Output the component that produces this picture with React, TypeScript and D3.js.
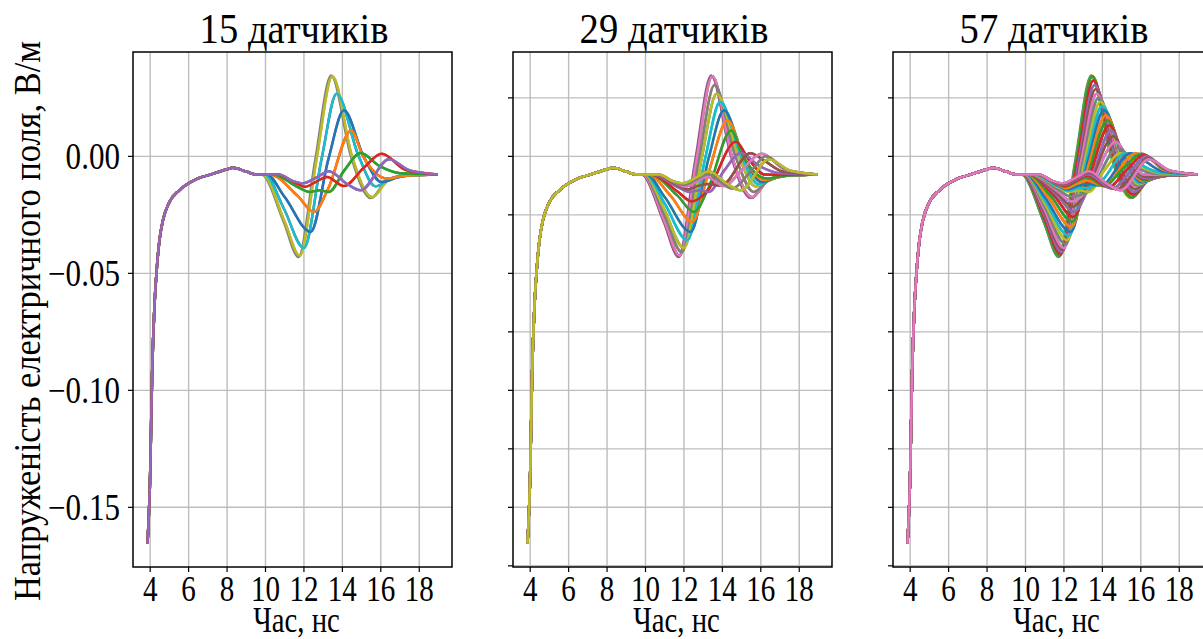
import * as d3 from "d3";

// sensors per panel and labels
const panelSensors = [15, 29, 57];
const panelTitles = ["15 датчиків", "29 датчиків", "57 датчиків"];
const xTicks = [4, 6, 8, 10, 12, 14, 16, 18];
const yTicksLabelled = [0, -0.05, -0.1, -0.15];
const yTicksFine = [0.025, 0, -0.025, -0.05, -0.075, -0.1, -0.125, -0.15, -0.175];
const yTickText = ["0.00", "\u22120.05", "\u22120.10", "\u22120.15"];

// part of the signal that every sensor shares (ns, V/m)
const startTimes = [3.86, 4.0, 4.1, 4.22, 4.35, 4.48, 4.66, 5.0, 5.5, 6.4, 7.2, 8.0, 8.3, 9.0, 9.5];
const startValues = [-0.1655, -0.1356, -0.093, -0.0644, -0.0473, -0.036, -0.0274, -0.0195, -0.0146, -0.0097, -0.0076, -0.0055, -0.0049, -0.0065, -0.0077];
const endTime = 18.95;
const endValue = -0.0077;

// knots [t, v, t, v, ...] per sensor, ordered from the middle sensor outwards (57-sensor spacing)
const sensorKnots: number[][] = [
	[9.8, -0.0077, 10.95, -0.028, 11.72, -0.043, 12.58, -0.002, 13.42, 0.0346, 14.45, 0.0, 15.48, -0.0178, 16.3, -0.0105, 17.3, -0.0082],
	[9.81, -0.0077, 10.96, -0.028, 11.73, -0.0429, 12.6, -0.002, 13.44, 0.0345, 14.46, 0.0, 15.5, -0.0177, 16.31, -0.0105, 17.3, -0.0082],
	[9.82, -0.0077, 10.97, -0.028, 11.75, -0.0428, 12.61, -0.002, 13.45, 0.0344, 14.48, 0.0, 15.52, -0.0177, 16.33, -0.0105, 17.3, -0.0082],
	[9.84, -0.0077, 10.99, -0.028, 11.77, -0.0426, 12.63, -0.002, 13.47, 0.0343, 14.49, 0.0, 15.53, -0.0176, 16.34, -0.0105, 17.3, -0.0082],
	[9.85, -0.0077, 11.0, -0.028, 11.78, -0.0425, 12.64, -0.002, 13.48, 0.0342, 14.5, 0.0, 15.55, -0.0175, 16.35, -0.0105, 17.3, -0.0082],
	[9.88, -0.0077, 10.99, -0.0266, 11.83, -0.0417, 12.71, -0.0018, 13.53, 0.0324, 14.59, 0.0, 15.59, -0.0163, 16.39, -0.0103, 17.32, -0.0082],
	[9.9, -0.0077, 10.98, -0.0252, 11.89, -0.0409, 12.78, -0.0015, 13.59, 0.0305, 14.68, 0.0, 15.63, -0.0152, 16.42, -0.01, 17.35, -0.0081],
	[9.93, -0.0077, 10.97, -0.0238, 11.94, -0.04, 12.85, -0.0012, 13.64, 0.0287, 14.76, 0.0, 15.68, -0.014, 16.46, -0.0098, 17.38, -0.008],
	[9.95, -0.0077, 10.96, -0.0224, 12.0, -0.0392, 12.92, -0.001, 13.7, 0.0268, 14.85, 0.0, 15.72, -0.0128, 16.5, -0.0095, 17.4, -0.008],
	[9.98, -0.0077, 10.97, -0.0212, 12.09, -0.0375, 13.01, -0.001, 13.8, 0.025, 14.91, 0.0, 15.8, -0.0124, 16.58, -0.0094, 17.45, -0.008],
	[10.0, -0.0077, 10.98, -0.0199, 12.18, -0.0358, 13.1, -0.001, 13.89, 0.0233, 14.98, 0.0, 15.89, -0.0119, 16.65, -0.0094, 17.5, -0.008],
	[10.03, -0.0077, 10.99, -0.0187, 12.26, -0.034, 13.19, -0.001, 13.99, 0.0215, 15.04, 0.0, 15.97, -0.0115, 16.73, -0.0093, 17.55, -0.008],
	[10.05, -0.0077, 11.0, -0.0174, 12.35, -0.0323, 13.28, -0.001, 14.08, 0.0197, 15.1, 0.0, 16.05, -0.011, 16.8, -0.0092, 17.6, -0.008],
	[10.09, -0.0077, 11.16, -0.0172, 12.39, -0.0302, 13.27, -0.004, 14.18, 0.0176, 15.1, 0.0, 16.12, -0.0106, 16.85, -0.009, 17.65, -0.008],
	[10.12, -0.0077, 11.32, -0.017, 12.44, -0.028, 13.26, -0.0075, 14.27, 0.0154, 15.09, 0.0, 16.2, -0.0102, 16.9, -0.0089, 17.7, -0.008],
	[10.16, -0.0077, 11.49, -0.0168, 12.48, -0.0259, 13.25, -0.0107, 14.37, 0.0133, 15.08, 0.0, 16.27, -0.0098, 16.95, -0.0087, 17.75, -0.008],
	[10.2, -0.0077, 11.65, -0.0167, 12.52, -0.0238, 13.25, -0.014, 14.46, 0.0111, 15.08, 0.0, 16.34, -0.0095, 17.0, -0.0086, 17.8, -0.008],
	[10.25, -0.0077, 11.65, -0.0158, 12.47, -0.0215, 13.2, -0.0145, 14.58, 0.0086, 15.2, -0.0005, 16.3, -0.0088, 17.0, -0.0084, 17.7, -0.008],
	[10.3, -0.0077, 11.65, -0.0149, 12.42, -0.0193, 13.2, -0.015, 14.7, 0.0062, 15.35, -0.001, 16.2, -0.0078, 17.0, -0.008, 17.6, -0.0078],
	[10.35, -0.0077, 11.65, -0.014, 12.36, -0.0172, 13.25, -0.0152, 14.83, 0.0038, 15.6, -0.0025, 16.1, -0.006, 17.0, -0.0076, 17.4, -0.0076],
	[10.4, -0.0077, 11.65, -0.013, 12.3, -0.0152, 12.8, -0.0145, 13.3, -0.0152, 14.1, -0.006, 14.95, 0.0014, 15.9, -0.004, 17.0, -0.0072],
	[10.45, -0.0077, 11.64, -0.0126, 12.24, -0.0147, 12.75, -0.0136, 13.25, -0.0135, 13.9, -0.011, 15.2, 0.0013, 16.0, -0.0035, 17.05, -0.007],
	[10.5, -0.0077, 11.62, -0.0122, 12.18, -0.0142, 12.7, -0.0127, 13.22, -0.0118, 13.95, -0.0125, 15.45, 0.0013, 16.3, -0.0025, 17.15, -0.0065],
	[10.55, -0.0077, 11.61, -0.0118, 12.11, -0.0136, 12.65, -0.0118, 13.2, -0.0103, 14.02, -0.0127, 15.75, 0.0012, 16.6, -0.0018, 17.25, -0.0061],
	[10.6, -0.0077, 11.6, -0.0115, 12.05, -0.013, 12.6, -0.011, 13.2, -0.0088, 14.08, -0.0127, 15.1, -0.005, 16.05, 0.0011, 17.3, -0.0058],
	[10.63, -0.0077, 11.55, -0.0113, 12.02, -0.0126, 12.62, -0.0105, 13.22, -0.0082, 14.3, -0.0132, 15.3, -0.0055, 16.15, 0.0006, 17.35, -0.0059],
	[10.65, -0.0077, 11.5, -0.011, 12.0, -0.0122, 12.65, -0.0099, 13.25, -0.0076, 14.5, -0.0137, 15.5, -0.0062, 16.25, 0.0, 17.4, -0.006],
	[10.68, -0.0077, 11.45, -0.0107, 11.97, -0.0119, 12.68, -0.0094, 13.28, -0.007, 14.72, -0.0141, 15.7, -0.0065, 16.35, -0.0006, 17.45, -0.006],
	[10.7, -0.0077, 11.4, -0.0105, 11.95, -0.0115, 12.7, -0.0088, 13.3, -0.0064, 14.2, -0.0115, 14.95, -0.0145, 16.43, -0.0012, 17.5, -0.006],
];

type Pt = [number, number];

function sensorPoints(row: number[]): Pt[] {
	const pts: Pt[] = startTimes.map((t, i) => [t, startValues[i]]);
	for (let i = 0; i < row.length; i += 2) pts.push([row[i], row[i + 1]]);
	pts.push([endTime, endValue]);
	return pts;
}

const allPoints = sensorKnots.map(sensorPoints);
const flat = allPoints.flat();

function padded(ext: [number, number]): [number, number] {
	const m = (ext[1] - ext[0]) * 0.05;
	return [ext[0] - m, ext[1] + m];
}

const xDomain = padded(d3.extent(flat, (p) => p[0]) as [number, number]);
const yDomain = padded(d3.extent(flat, (p) => p[1]) as [number, number]);

const W = 1203;
const H = 639;
const panelLeft = [133, 513, 893];
const panelW = 319;
const top = 52;
const bottom = 567;
const serif = "Liberation Serif";

function Panel({ idx }: { idx: number }) {
	const left = panelLeft[idx];
	const x = d3.scaleLinear().domain(xDomain).range([left, left + panelW]);
	const y = d3.scaleLinear().domain(yDomain).range([bottom, top]);
	const line = d3
		.line<Pt>()
		.x((d) => x(d[0]))
		.y((d) => y(d[1]))
		.curve(d3.curveMonotoneX);

	const n = panelSensors[idx];
	const c = (n - 1) / 2;
	const step = 28 / c;
	const ySet = idx === 0 ? yTicksLabelled : yTicksFine;
	const cx = left + panelW / 2;

	return (
		<g>
			{xTicks.map((t) => (
				<line key={"gx" + t} x1={x(t)} x2={x(t)} y1={top} y2={bottom} stroke="#bdbdbd" strokeWidth={1.4} />
			))}
			{ySet.map((t) => (
				<line key={"gy" + t} x1={left} x2={left + panelW} y1={y(t)} y2={y(t)} stroke="#bdbdbd" strokeWidth={1.4} />
			))}
			{d3.range(n).map((i) => (
				<path
					key={i}
					d={line(allPoints[Math.abs(i - c) * step]) ?? ""}
					fill="none"
					stroke={d3.schemeCategory10[i % 10]}
					strokeWidth={2.5}
				/>
			))}
			<rect x={left} y={top} width={panelW} height={bottom - top} fill="none" stroke="#000" strokeWidth={1.5} />
			{xTicks.map((t) => (
				<g key={"tx" + t}>
					<line x1={x(t)} x2={x(t)} y1={bottom} y2={bottom + 5} stroke="#000" strokeWidth={1.2} />
					<text transform={`translate(${x(t)},601) scale(0.83,1)`} textAnchor="middle" fontSize={35} fontFamily={serif}>
						{t}
					</text>
				</g>
			))}
			{ySet.map((t) => (
				<line key={"ty" + t} x1={left - 5} x2={left} y1={y(t)} y2={y(t)} stroke="#000" strokeWidth={1.2} />
			))}
			{idx === 0 &&
				yTicksLabelled.map((t, i) => (
					<text key={"yl" + t} transform={`translate(120,${y(t) + 12.5}) scale(0.84,1)`} textAnchor="end" fontSize={37} fontFamily={serif}>
						{yTickText[i]}
					</text>
				))}
			<text transform={`translate(${cx + 1.5},43) scale(0.92,1)`} textAnchor="middle" fontSize={42} fontFamily={serif}>
				{panelTitles[idx]}
			</text>
			<text transform={`translate(${cx + 4},632) scale(0.82,1)`} textAnchor="middle" fontSize={35} fontFamily={serif}>
				Час, нс
			</text>
		</g>
	);
}

export default function App() {
	return (
		<svg width={W} height={H} style={{ position: "absolute", left: 0, top: 0, background: "#fff" }}>
			<rect width={W} height={H} fill="#fff" />
			{panelSensors.map((_, i) => (
				<Panel key={i} idx={i} />
			))}
			<text
				transform="translate(40,321) rotate(-90)"
				textAnchor="middle"
				fontSize={37}
				fontFamily={serif}
				textLength={560}
				lengthAdjust="spacingAndGlyphs"
			>
				Напруженість електричного поля, В/м
			</text>
		</svg>
	);
}
